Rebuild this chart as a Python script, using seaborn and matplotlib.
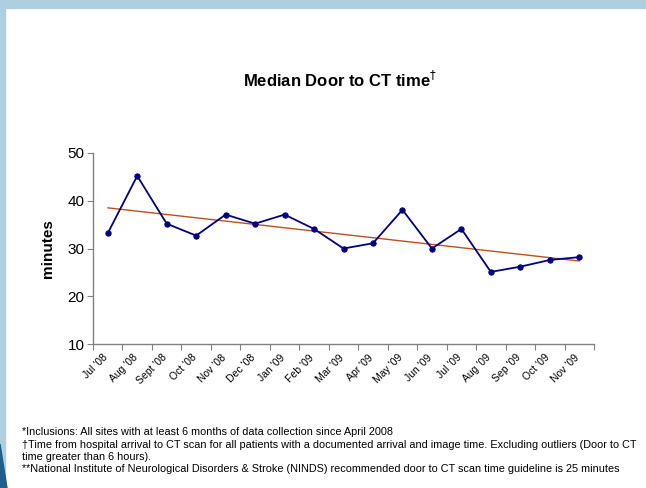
import matplotlib
matplotlib.use('Agg')
import matplotlib.pyplot as plt
import matplotlib.transforms as mtransforms
from matplotlib.patches import Rectangle, Polygon
import pandas as pd
import numpy as np
import seaborn as sns

months = ["Jul '08", "Aug '08", "Sept '08", "Oct '08", "Nov '08", "Dec '08",
          "Jan '09", "Feb '09", "Mar '09", "Apr '09", "May '09", "Jun '09",
          "Jul '09", "Aug '09", "Sep '09", "Oct '09", "Nov '09"]
median_minutes = [33.2, 45.2, 35.2, 32.7, 37.1, 35.2, 37.1, 34.1, 30.0,
                  31.1, 38.1, 30.0, 34.1, 25.1, 26.2, 27.6, 28.2]
y_ticks = [10, 20, 30, 40, 50]

footnotes = [
    "*Inclusions: All sites with at least 6 months of data collection since April 2008",
    "\u2020Time from hospital arrival to CT scan for all patients with a documented arrival and image time. Excluding outliers (Door to CT",
    "time greater than 6 hours).",
    "**National Institute of Neurological Disorders & Stroke (NINDS) recommended door to CT scan time guideline is 25 minutes",
]

sns.set_style('white')
plt.rcParams['font.family'] = ['Liberation Sans', 'DejaVu Sans']
plt.rcParams['text.color'] = 'black'
plt.rcParams['xtick.color'] = 'black'
plt.rcParams['ytick.color'] = 'black'
plt.rcParams['axes.labelcolor'] = 'black'

df = pd.DataFrame({'pos': np.arange(len(months)), 'month': months, 'value': median_minutes})

fig = plt.figure(figsize=(6.46, 4.88), dpi=100)
ax = fig.add_axes([0.144, 0.295, 0.7755, 0.3915])

# slide decoration
fig.patches.append(Rectangle((0, 1 - 8 / 488), 1, 8 / 488, transform=fig.transFigure,
                             color='#AFCFE0', zorder=0))
fig.patches.append(Rectangle((0, 0), 5 / 646, 1, transform=fig.transFigure,
                             color='#AFCFE0', zorder=0))
fig.patches.append(Polygon([(0, 0), (0, 44 / 488), (7 / 646, 0)], closed=True,
                           transform=fig.transFigure, color='#1F5F8B', zorder=1))

sns.regplot(data=df, x='pos', y='value', ax=ax, scatter=False, ci=None,
            line_kws={'color': '#C0501A', 'lw': 1.0})
sns.lineplot(data=df, x='pos', y='value', ax=ax, color='#000080', lw=1.3,
             marker='o', markersize=3.8, markeredgecolor='#000080')

ax.set_xlim(-0.5, len(months) - 0.5)
ax.set_ylim(10, 50)
ax.set_yticks(y_ticks)
ax.tick_params(axis='y', labelsize=11, length=4, width=0.8, color='#808080',
               direction='out', left=True, pad=2)

ax.set_xticks(np.arange(len(months)))
ax.set_xticklabels(months, rotation=45, ha='right', rotation_mode='anchor', fontsize=7.5)
ax.set_xticks(np.arange(-0.5, len(months)), minor=True)
ax.tick_params(axis='x', which='major', length=0, pad=6)
ax.tick_params(axis='x', which='minor', length=4, width=0.8, color='#808080',
               direction='out', bottom=True)
shift = mtransforms.ScaledTranslation(-5 / 100, 0, fig.dpi_scale_trans)
for lab in ax.get_xticklabels():
    lab.set_transform(lab.get_transform() + shift)

sns.despine(ax=ax)
for s in ['left', 'bottom']:
    ax.spines[s].set_color('#808080')
    ax.spines[s].set_linewidth(1.0)

ax.set_xlabel('')
ax.set_ylabel('minutes', fontsize=11, fontweight='bold', labelpad=9)

fig.text(0.527, 1 - 80 / 488, 'Median Door to CT time' + r'$^{\dagger}$', ha='center',
         va='center', fontsize=12, fontweight='bold')

for i, line in enumerate(footnotes):
    fig.text(22 / 646, 1 - (432 + i * 12.5) / 488, line, ha='left', va='center',
             fontsize=7.8, color='black')

fig.savefig('out.png', dpi=100)
